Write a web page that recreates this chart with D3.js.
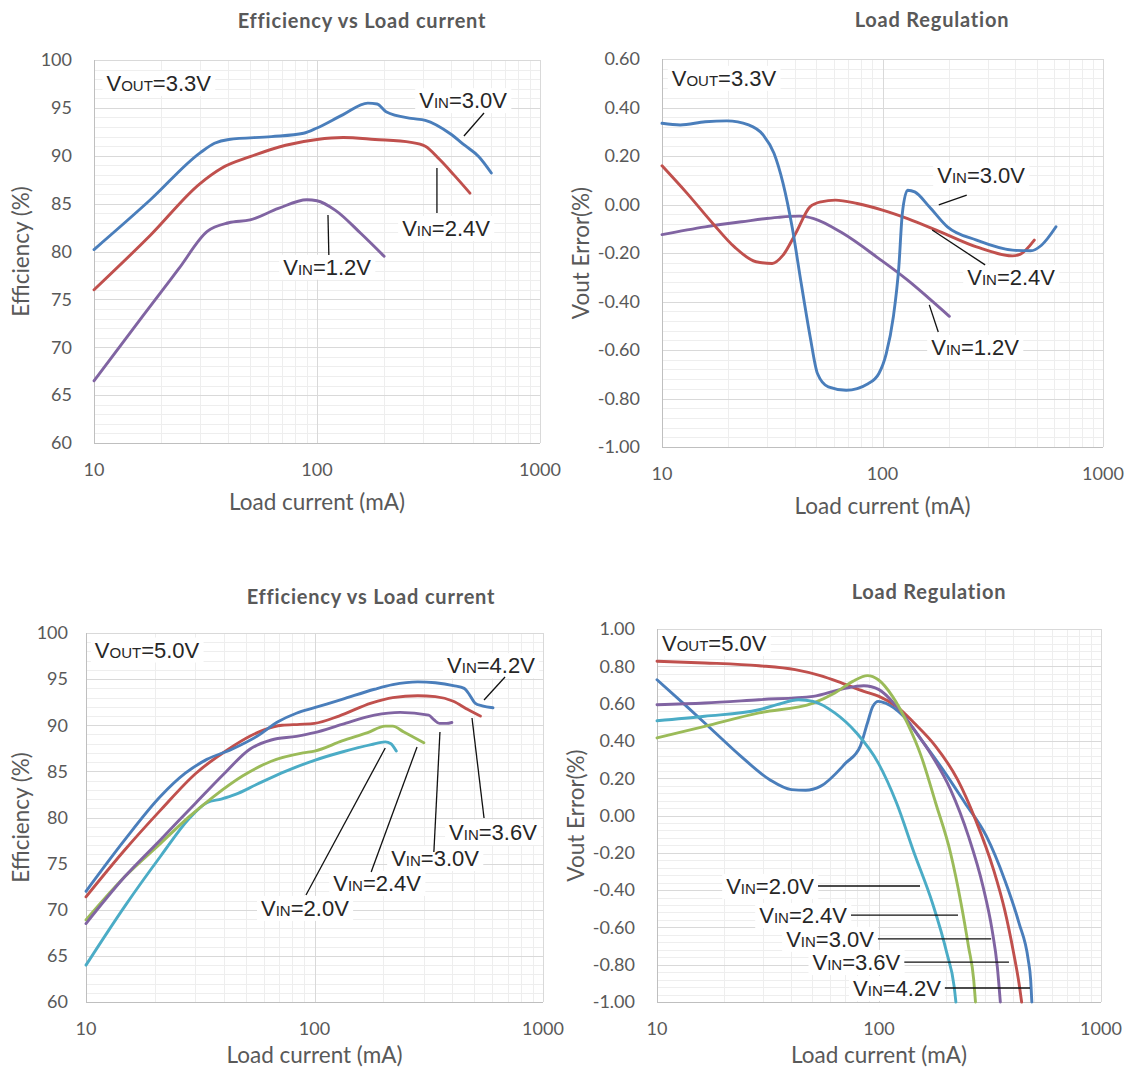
<!DOCTYPE html>
<html>
<head>
<meta charset="utf-8">
<script src="https://cdn.jsdelivr.net/npm/d3@7"></script>
<style>
  body { margin: 0; background: #fff; }
  text { font-family: Lato, "Open Sans", sans-serif; }
  .note text { font-family: "Liberation Sans", Arial, sans-serif; }
</style>
</head>
<body>
<svg width="1127" height="1072"></svg>
<script>
// ---- data: [load current (mA), value] ----
// Vout = 3.3V efficiency (%)
var effA_vin30 = [[10,80.2],[17.9,85.4],[29.9,90.3],[34.7,91.3],[40.2,91.7],[62.5,92.0],[87,92.35],[100,92.9],[131,94.3],[169,95.5],[186,95.4],[204,94.6],[264,93.9],[306,93.7],[396,92.3],[459,91.1],[532,89.9],[605,88.2]];
var effA_vin24 = [[10,76.0],[17.9,81.7],[29.9,87.1],[37.3,88.7],[50.1,89.9],[72.3,91.1],[100,91.7],[131,91.9],[182,91.7],[264,91.4],[306,91.0],[355,89.6],[411,88.0],[485,86.1]];
var effA_vin12 = [[10,66.5],[16.6,73.3],[24.0,78.2],[32.2,82.1],[40.2,83.0],[50.1,83.3],[67.1,84.5],[90.1,85.4],[100,85.3],[121,84.3],[157,81.9],[200,79.5]];

// Vout = 3.3V load regulation (%)
var regB_vin30 = [[10,0.335],[12.1,0.328],[15.7,0.341],[19.7,0.345],[24.7,0.328],[28.8,0.286],[32.2,0.211],[35.4,0.087],[38.9,-0.092],[42.8,-0.326],[47.0,-0.546],[50.7,-0.697],[56.8,-0.752],[68.5,-0.766],[86,-0.739],[96.3,-0.697],[104,-0.615],[112,-0.463],[118.6,-0.257],[123,-0.037],[130,0.059],[140,0.052],[163,-0.009],[197,-0.092],[267,-0.147],[389,-0.188],[470,-0.191],[526,-0.168],[612,-0.092]];
var regB_vin24 = [[10,0.160],[13.0,0.046],[17.0,-0.078],[21.3,-0.175],[26.7,-0.236],[31.6,-0.243],[35.4,-0.209],[40.4,-0.119],[47.0,-0.009],[52.6,0.011],[61.2,0.018],[76.8,0.004],[100,-0.023],[130,-0.058],[183,-0.113],[267,-0.175],[389,-0.212],[420,-0.206],[488,-0.147]];
var regB_vin12 = [[10,-0.124],[15.7,-0.092],[23.0,-0.071],[33.5,-0.053],[42.0,-0.048],[48.8,-0.058],[66.1,-0.119],[96.3,-0.223],[130,-0.312],[163,-0.388],[201,-0.461]];

// Vout = 5.0V efficiency (%)
var effC_vin42 = [[10,72.0],[14.8,77.6],[21.2,82.3],[27.2,84.8],[33.8,86.3],[43.5,87.4],[56.0,88.8],[69.5,90.4],[83.3,91.3],[100,91.9],[132,92.8],[183,93.9],[220,94.4],[283,94.7],[338,94.6],[405,94.3],[452,94.0],[477,93.3],[504,92.4],[542,92.1],[604,91.9]];
var effC_vin36 = [[10,71.4],[14.8,76.5],[21.2,80.8],[30.3,84.8],[42.0,87.4],[52.1,88.8],[60.1,89.5],[72.1,90.0],[86.1,90.1],[100,90.2],[128,91.0],[177,92.4],[220,93.0],[283,93.2],[338,93.1],[405,92.6],[469,91.7],[532,91.0]];
var effC_vin30 = [[10,68.5],[14.8,73.6],[21.2,77.6],[30.3,81.6],[40.4,84.8],[52.1,87.4],[64.7,88.4],[83.3,88.8],[100,89.2],[132,90.1],[183,91.1],[237,91.4],[316,91.1],[333,90.6],[352,90.2],[378,90.2],[399,90.3]];
var effC_vin24 = [[10,68.9],[14.8,73.6],[21.2,77.2],[28.3,80.1],[36.3,82.3],[48.4,84.5],[64.7,86.1],[89.1,87.0],[100,87.2],[132,88.3],[171,89.2],[204,89.9],[220,89.9],[245,89.3],[301,88.1]];
var effC_vin20 = [[10,64.0],[14.8,70.4],[21.2,75.8],[28.3,79.9],[33.8,81.6],[39.1,82.0],[45.1,82.5],[56.0,83.6],[74.6,85.0],[100,86.2],[132,87.1],[177,87.9],[204,88.2],[216,88.0],[228,87.2]];

// Vout = 5.0V load regulation (%)
var regD_vin42 = [[10,0.728],[13.6,0.585],[17.7,0.460],[23.9,0.317],[32.2,0.192],[40.3,0.139],[46.8,0.135],[54.4,0.156],[70.8,0.281],[82.3,0.371],[88.7,0.496],[93.8,0.585],[99.3,0.612],[107,0.603],[129,0.532],[155,0.407],[194,0.246],[244,0.067],[305,-0.112],[368,-0.344],[427,-0.576],[470,-0.773],[482,-0.880],[488,-1.0]];
var regD_vin36 = [[10,0.827],[16.4,0.818],[28.8,0.803],[41.9,0.782],[54.4,0.750],[68.1,0.710],[85.4,0.666],[100,0.639],[120,0.585],[144,0.496],[180,0.371],[226,0.192],[272,-0.022],[328,-0.290],[368,-0.505],[404,-0.737],[427,-0.898],[439,-1.0]];
var regD_vin30 = [[10,0.594],[16.4,0.603],[28.8,0.621],[50.5,0.639],[68.1,0.678],[85.4,0.696],[100,0.675],[120,0.585],[144,0.460],[174,0.317],[210,0.139],[253,-0.112],[294,-0.380],[323,-0.612],[341,-0.809],[352,-1.0]];
var regD_vin24 = [[10,0.416],[16.4,0.478],[28.8,0.550],[50.5,0.603],[63.2,0.657],[76.2,0.719],[88.7,0.750],[99.3,0.728],[115,0.639],[134,0.496],[155,0.317],[180,0.067],[210,-0.201],[234,-0.469],[253,-0.702],[267,-0.880],[272,-1.0]];
var regD_vin20 = [[10,0.508],[16.4,0.532],[28.8,0.567],[34.7,0.594],[43.4,0.621],[50.5,0.612],[63.2,0.550],[79.3,0.442],[99.3,0.281],[120,0.067],[144,-0.201],[174,-0.469],[202,-0.737],[218,-0.916],[222,-1.0]];

var xTicks = [10, 100, 1000];
var effTicks = [60, 65, 70, 75, 80, 85, 90, 95, 100];
var regTicksB = [-1.0, -0.8, -0.6, -0.4, -0.2, 0, 0.2, 0.4, 0.6];
var regTicksD = [-1.0, -0.8, -0.6, -0.4, -0.2, 0, 0.2, 0.4, 0.6, 0.8, 1.0];

// excel 2007 palette
var blue = "#4a7ebb", red = "#c0504d", purple = "#8064a2", green = "#9bbb59", cyan = "#4bacc6";

// annotations, in data units: label centre + leader line
var notesA = [
  {sub: "OUT", txt: "=3.3V", at: [19.5, 97.6]},
  {sub: "IN", txt: "=3.0V", at: [452, 95.8], line: [[561, 94.46], [456, 92.06]]},
  {sub: "IN", txt: "=2.4V", at: [379, 82.45], line: [[345, 88.72], [345, 84.02]]},
  {sub: "IN", txt: "=1.2V", at: [111, 78.4], line: [[112, 83.81], [113, 79.63]]}
];
var notesB = [
  {sub: "OUT", txt: "=3.3V", at: [19.1, 0.522]},
  {sub: "IN", txt: "=3.0V", at: [280, 0.122], line: [[241, 0.039], [180, -0.002]]},
  {sub: "IN", txt: "=2.4V", at: [383, -0.299], line: [[292, -0.249], [168, -0.105]]},
  {sub: "IN", txt: "=1.2V", at: [263, -0.588], line: [[179, -0.526], [163, -0.414]]}
];
var notesC = [
  {sub: "OUT", txt: "=5.0V", at: [18.5, 98.2]},
  {sub: "IN", txt: "=4.2V", at: [592, 96.5], line: [[682, 95.23], [552, 92.74]]},
  {sub: "IN", txt: "=3.6V", at: [604, 78.43], line: [[552, 79.95], [489, 90.79]]},
  {sub: "IN", txt: "=3.0V", at: [337, 75.6], line: [[333, 76.26], [354, 89.27]]},
  {sub: "IN", txt: "=2.4V", at: [188, 72.9], line: [[177, 74.09], [281, 87.64]]},
  {sub: "IN", txt: "=2.0V", at: [90.8, 70.19], line: [[91.8, 71.6], [204, 87.53]]}
];
var notesD = [
  {sub: "OUT", txt: "=5.0V", at: [18.1, 0.925]},
  {sub: "IN", txt: "=2.0V", end: true, at: [53.1, -0.378], line: [[53.1, -0.378], [153, -0.378]]},
  {sub: "IN", txt: "=2.4V", end: true, at: [74.8, -0.534], line: [[74.8, -0.534], [227, -0.534]]},
  {sub: "IN", txt: "=3.0V", end: true, at: [98.9, -0.662], line: [[98.9, -0.662], [320, -0.662]]},
  {sub: "IN", txt: "=3.6V", end: true, at: [130, -0.786], line: [[130, -0.786], [385, -0.786]]},
  {sub: "IN", txt: "=4.2V", end: true, at: [198, -0.925], line: [[198, -0.925], [479, -0.925]]}
];

var svg = d3.select("svg");

var fmtInt = d3.format("d");
function fmtPct(d) { return d3.format(".2f")(d).replace("\u2212", "-"); }

var panels = [
  {l: 94, r: 540, t: 60, b: 443, y: [60, 100], ticks: effTicks, minor: 1, fmt: fmtInt, tickGap: 22, xTitleGap: 59,
   title: "Efficiency vs Load current", titleAt: [362, 21], yTitle: "Efficiency (%)", yTitleX: 21,
   series: [[effA_vin12, purple], [effA_vin24, red], [effA_vin30, blue]], notes: notesA},
  {l: 662, r: 1103, t: 59, b: 447, y: [-1, 0.6], ticks: regTicksB, minor: 0.04, fmt: fmtPct, tickGap: 22, xTitleGap: 59,
   title: "Load Regulation", titleAt: [932, 20], yTitle: "Vout Error(%)", yTitleX: 581,
   series: [[regB_vin12, purple], [regB_vin24, red], [regB_vin30, blue]], notes: notesB},
  {l: 86, r: 543, t: 633, b: 1002, y: [60, 100], ticks: effTicks, minor: 1, fmt: fmtInt, tickGap: 18, xTitleGap: 53,
   title: "Efficiency vs Load current", titleAt: [371, 597], yTitle: "Efficiency (%)", yTitleX: 21,
   series: [[effC_vin20, cyan], [effC_vin24, green], [effC_vin30, purple], [effC_vin36, red], [effC_vin42, blue]], notes: notesC},
  {l: 657, r: 1101, t: 629, b: 1002, y: [-1, 1], ticks: regTicksD, minor: 0.04, fmt: fmtPct, tickGap: 22, xTitleGap: 53,
   title: "Load Regulation", titleAt: [929, 592], yTitle: "Vout Error(%)", yTitleX: 576,
   series: [[regD_vin42, blue], [regD_vin36, red], [regD_vin30, purple], [regD_vin24, green], [regD_vin20, cyan]], notes: notesD}
];

panels.forEach(drawPanel);

function drawPanel(p) {
  var x = d3.scaleLog().domain([10, 1000]).range([p.l, p.r]);
  var y = d3.scaleLinear().domain(p.y).range([p.b, p.t]);
  var g = svg.append("g");

  // minor grid
  var xMinor = [];
  [10, 100].forEach(function(dec) { for (var k = 2; k <= 9; k++) xMinor.push(dec * k); });
  var yMinor = d3.range(p.y[0], p.y[1] + 1e-9, p.minor);
  g.append("g").selectAll("line").data(yMinor).enter().append("line")
      .attr("x1", p.l).attr("x2", p.r)
      .attr("y1", function(d) { return Math.round(y(d)) + 0.5; })
      .attr("y2", function(d) { return Math.round(y(d)) + 0.5; })
      .attr("stroke", "#eeeeee");
  g.append("g").selectAll("line").data(xMinor).enter().append("line")
      .attr("y1", p.t).attr("y2", p.b)
      .attr("x1", function(d) { return Math.round(x(d)) + 0.5; })
      .attr("x2", function(d) { return Math.round(x(d)) + 0.5; })
      .attr("stroke", "#eeeeee");

  // major grid
  g.append("g").selectAll("line").data(p.ticks).enter().append("line")
      .attr("x1", p.l).attr("x2", p.r)
      .attr("y1", function(d) { return Math.round(y(d)) + 0.5; })
      .attr("y2", function(d) { return Math.round(y(d)) + 0.5; })
      .attr("stroke", "#d9d9d9");
  g.append("g").selectAll("line").data(xTicks).enter().append("line")
      .attr("y1", p.t).attr("y2", p.b)
      .attr("x1", function(d) { return Math.round(x(d)) + 0.5; })
      .attr("x2", function(d) { return Math.round(x(d)) + 0.5; })
      .attr("stroke", "#d9d9d9");
  g.append("line").attr("x1", p.l + 0.5).attr("x2", p.l + 0.5).attr("y1", p.t).attr("y2", p.b + 0.5).attr("stroke", "#bfbfbf");
  g.append("line").attr("x1", p.l).attr("x2", p.r).attr("y1", p.b + 0.5).attr("y2", p.b + 0.5).attr("stroke", "#bfbfbf");

  // tick labels
  g.append("g").selectAll("text").data(p.ticks).enter().append("text")
      .attr("x", p.l - p.tickGap)
      .attr("y", function(d) { return y(d); })
      .attr("dy", "0.35em")
      .attr("text-anchor", "end")
      .attr("font-size", 18)
      .attr("fill", "#595959")
      .text(p.fmt);
  g.append("g").selectAll("text").data(xTicks).enter().append("text")
      .attr("x", function(d) { return x(d); })
      .attr("y", p.b + 27)
      .attr("dy", "0.35em")
      .attr("text-anchor", "middle")
      .attr("font-size", 18)
      .attr("fill", "#595959")
      .text(function(d) { return d; });

  // titles
  g.append("text").attr("x", p.titleAt[0]).attr("y", p.titleAt[1]).attr("dy", "0.35em")
      .attr("text-anchor", "middle").attr("font-size", 20).attr("font-weight", "bold")
      .attr("letter-spacing", 0.8)
      .attr("fill", "#595959").text(p.title);
  g.append("text").attr("x", (p.l + p.r) / 2).attr("y", p.b + p.xTitleGap).attr("dy", "0.35em")
      .attr("text-anchor", "middle").attr("font-size", 22.5).attr("fill", "#595959")
      .text("Load current (mA)");
  g.append("text")
      .attr("transform", "translate(" + p.yTitleX + "," + (p.t + p.b) / 2 + ") rotate(-90)")
      .attr("dy", "0.35em").attr("text-anchor", "middle").attr("font-size", 22.5).attr("fill", "#595959")
      .text(p.yTitle);

  // curves
  var line = d3.line()
      .x(function(d) { return x(d[0]); })
      .y(function(d) { return y(d[1]); })
      .curve(d3.curveMonotoneX);
  g.append("g").selectAll("path").data(p.series).enter().append("path")
      .attr("d", function(s) { return line(s[0]); })
      .attr("fill", "none")
      .attr("stroke", function(s) { return s[1]; })
      .attr("stroke-width", 2.9)
      .attr("stroke-linejoin", "round")
      .attr("stroke-linecap", "round");

  // annotations
  var ng = g.append("g").attr("class", "note");
  p.notes.forEach(function(n) {
    var t = ng.append("text")
        .attr("x", x(n.at[0]) + (n.end ? -4 : 0))
        .attr("y", y(n.at[1]))
        .attr("dy", "0.36em")
        .attr("text-anchor", n.end ? "end" : "middle")
        .attr("font-size", 22)
        .attr("fill", "#262626");
    t.append("tspan").text("V");
    t.append("tspan").attr("font-size", 15).text(n.sub);
    t.append("tspan").text(n.txt);
    var bb = t.node().getBBox();
    ng.insert("rect", function() { return t.node(); })
        .attr("x", bb.x - 4).attr("y", bb.y).attr("width", bb.width + 8).attr("height", bb.height)
        .attr("fill", "#fff");
    if (n.line) {
      ng.append("line")
          .attr("x1", x(n.line[0][0])).attr("y1", y(n.line[0][1]))
          .attr("x2", x(n.line[1][0])).attr("y2", y(n.line[1][1]))
          .attr("stroke", "#111").attr("stroke-width", 1.3);
    }
  });
}
</script>
</body>
</html>
